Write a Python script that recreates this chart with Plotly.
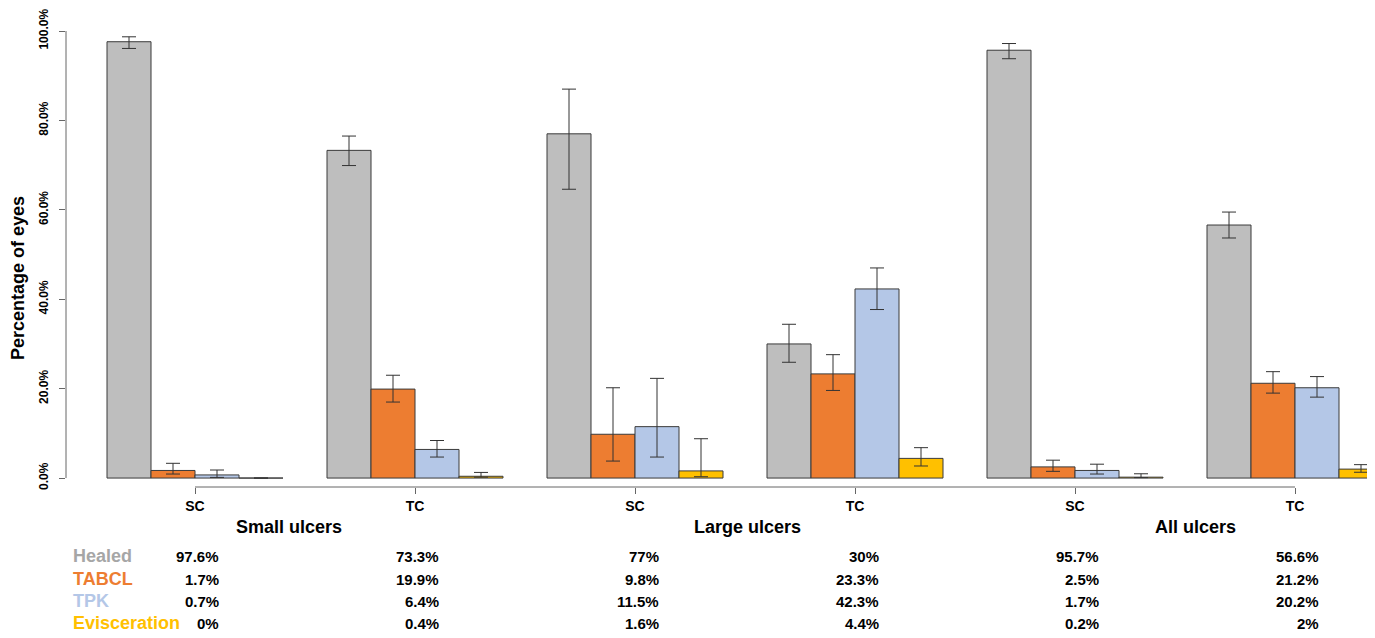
import plotly.graph_objects as go

# ---- data ----
groups = ["Small ulcers", "Large ulcers", "All ulcers"]
treatments = ["SC", "TC"]
outcomes = ["Healed", "TABCL", "TPK", "Evisceration"]

healed = [97.6, 73.3, 77.0, 30.0, 95.7, 56.6]
tabcl = [1.7, 19.9, 9.8, 23.3, 2.5, 21.2]
tpk = [0.7, 6.4, 11.5, 42.3, 1.7, 20.2]
evisc = [0.0, 0.4, 1.6, 4.4, 0.2, 2.0]

healed_lo = [96.1, 69.9, 64.6, 25.9, 93.8, 53.7]
healed_hi = [98.7, 76.5, 87.0, 34.4, 97.2, 59.5]
tabcl_lo = [0.9, 17.0, 3.8, 19.6, 1.5, 19.0]
tabcl_hi = [3.3, 23.0, 20.2, 27.6, 4.0, 23.8]
tpk_lo = [0.15, 4.7, 4.7, 37.7, 0.9, 18.1]
tpk_hi = [1.8, 8.4, 22.3, 47.0, 3.1, 22.7]
evisc_lo = [None, 0.2, 0.3, 2.7, 0.1, 1.3]
evisc_hi = [None, 1.26, 8.8, 6.8, 0.96, 3.0]

value_labels = {
    "Healed": ["97.6%", "73.3%", "77%", "30%", "95.7%", "56.6%"],
    "TABCL": ["1.7%", "19.9%", "9.8%", "23.3%", "2.5%", "21.2%"],
    "TPK": ["0.7%", "6.4%", "11.5%", "42.3%", "1.7%", "20.2%"],
    "Evisceration": ["0%", "0.4%", "1.6%", "4.4%", "0.2%", "2%"],
}
ytick_vals = [0, 20, 40, 60, 80, 100]
ytick_text = ["0.0%", "20.0%", "40.0%", "60.0%", "80.0%", "100.0%"]

bar_colors = ["#BEBEBE", "#ED7D31", "#B4C7E7", "#FFC000"]
label_colors = ["#A6A6A6", "#ED7D31", "#B4C7E7", "#FFC000"]

# ---- layout geometry (page has an 8px body margin) ----
OFF = 8
WIN_W, WIN_H = 1375, 638
W, H = WIN_W - OFF, WIN_H - OFF
ML, MR, MT, MB = 66 - OFF, 0, 31 - OFF, WIN_H - 487
PW, PH = W - ML - MR, H - MT - MB
FONT = "Liberation Sans, Arial, sans-serif"


def px_x(px):
    return (px - OFF - ML) / PW


def px_y(py):
    return (WIN_H - MB - py) / PH


n_groups = len(healed)
centers = [3 + 5 * g for g in range(n_groups)]

series = [
    (healed, healed_lo, healed_hi),
    (tabcl, tabcl_lo, tabcl_hi),
    (tpk, tpk_lo, tpk_hi),
    (evisc, evisc_lo, evisc_hi),
]

fig = go.Figure()
for j, (vals, lo, hi) in enumerate(series):
    xs = [c + (j - 1.5) for c in centers]
    plus = [None if h is None else h - v for v, h in zip(vals, hi)]
    minus = [None if l is None else v - l for v, l in zip(vals, lo)]
    fig.add_trace(go.Bar(
        x=xs, y=vals, width=1, name=outcomes[j],
        marker=dict(color=bar_colors[j], line=dict(color="#3a3a3a", width=1)),
        error_y=dict(type="data", symmetric=False, array=plus, arrayminus=minus,
                     color="#333333", thickness=1, width=7),
        showlegend=False,
    ))

shapes = [
    dict(type="line", xref="paper", yref="y", x0=0, x1=0, y0=0, y1=100,
         line=dict(color="#666666", width=1)),
    dict(type="line", xref="x", yref="paper", x0=centers[0], x1=centers[-1], y0=0, y1=0,
         line=dict(color="#666666", width=1)),
]

annotations = []
annotations.append(dict(x=px_x(18), y=px_y(278), xref="paper", yref="paper",
                        xanchor="center", yanchor="middle",
                        text="Percentage of eyes", textangle=-90, showarrow=False,
                        font=dict(family=FONT, size=18, color="#000000", weight="bold")))
for gx, gname in zip([289, 747, 1195], groups):
    annotations.append(dict(x=px_x(gx), y=px_y(527), xref="paper", yref="paper",
                            xanchor="center", yanchor="middle",
                            text=gname, showarrow=False,
                            font=dict(family=FONT, size=18, color="#000000", weight="bold")))
row_y = [556, 579, 601, 623]
for r, name in enumerate(outcomes):
    annotations.append(dict(x=px_x(71), y=px_y(row_y[r]), xref="paper", yref="paper",
                            xanchor="left", yanchor="middle",
                            text=name, showarrow=False,
                            font=dict(family=FONT, size=18, color=label_colors[r], weight="bold")))
    for g in range(n_groups):
        annotations.append(dict(x=centers[g] + 0.58, y=px_y(row_y[r]), xref="x", yref="paper",
                                xanchor="right", yanchor="middle",
                                text=value_labels[name][g], showarrow=False,
                                font=dict(family=FONT, size=15, color="#000000", weight="bold")))

x0_unit = (66 - 63) / 44
x1_unit = (WIN_W - 63) / 44

fig.update_layout(
    width=W, height=H,
    margin=dict(l=ML, r=MR, t=MT, b=MB, autoexpand=False),
    paper_bgcolor="white", plot_bgcolor="white",
    barmode="overlay",
    xaxis=dict(range=[x0_unit, x1_unit], tickvals=centers,
               ticktext=[treatments[g % 2] for g in range(n_groups)],
               ticks="outside", ticklen=6, tickcolor="#666666", showline=False,
               showgrid=False, zeroline=False, automargin=False,
               tickfont=dict(family=FONT, size=14, color="#000000", weight="bold")),
    yaxis=dict(range=[-2, 100], tickvals=ytick_vals, ticktext=ytick_text,
               tickangle=-90, ticks="outside", ticklen=6, tickcolor="#666666",
               ticklabelstandoff=6, ticklabeloverflow="allow", automargin=False,
               showline=False, showgrid=False, zeroline=False,
               tickfont=dict(family=FONT, size=12, color="#000000", weight="bold")),
    shapes=shapes, annotations=annotations,
)

fig.write_html("out.html")
